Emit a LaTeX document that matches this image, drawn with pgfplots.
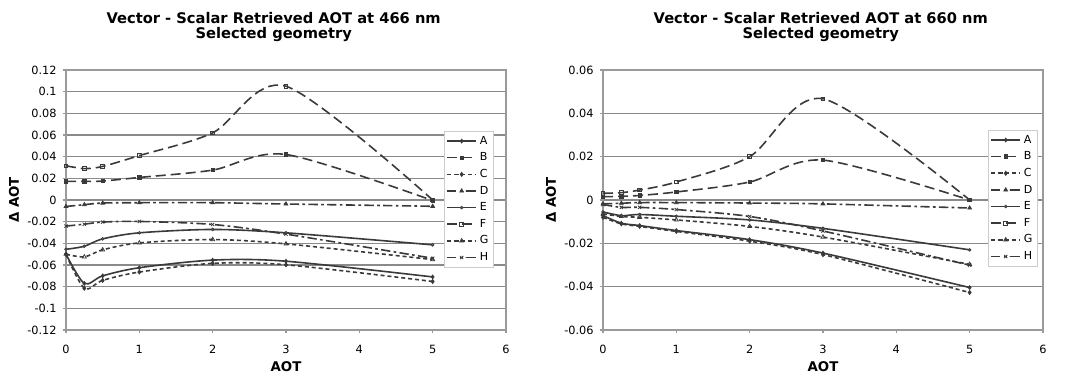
\documentclass[border=0pt]{standalone}
\usepackage{fontspec}
\setmainfont{DejaVu Sans}
\usepackage{pgfplots}
\pgfplotsset{compat=1.18}
\definecolor{ln}{HTML}{3A3A3A}
\definecolor{grd}{HTML}{8A8A8A}
\definecolor{frm}{HTML}{9A9A9A}
\pgfplotsset{
  chartstyle/.style={
    scale only axis, width=330pt, height=195pt,
    xmin=0, xmax=6, xtick={0,1,2,3,4,5,6},
    xticklabels={0,1,2,3,4,5,6},
    scaled y ticks=false, scaled x ticks=false,
    axis line style={frm, line width=0.8pt},
    ymajorgrids, grid style={grd, line width=0.8pt},
    tick align=outside, xtick pos=lower, ytick pos=left,
    major tick length=2.5pt, tick style={frm, line width=0.8pt},
    ticklabel style={font=\fontsize{8.5}{9}\selectfont},
    xticklabel style={yshift=-5.5pt},
    yticklabel style={xshift=-1pt},
    xlabel={\bfseries AOT}, ylabel={\bfseries Δ AOT},
    label style={font=\fontsize{8.4}{9}\selectfont},
    every axis x label/.style={at={(axis description cs:0.5,-0.142)},anchor=center},
    every axis y label/.style={at={(axis description cs:-0.118,0.5)},anchor=center,rotate=90},
    title style={font=\fontsize{11}{11.25}\selectfont\bfseries, align=center, anchor=center},
    legend cell align=left,
    legend style={font=\fontsize{8.3}{9}\selectfont, draw=gray!40, fill=white,
      inner sep=1.5pt, row sep=0.9pt},
    legend image code/.code={\draw[mark repeat=2,mark phase=2] plot coordinates {(0pt,0pt) (11pt,0pt) (22pt,0pt)};},
  },
  pl/.style={ln, line width=1.2pt, smooth, tension=0.5},
  sA/.style={pl, solid, mark=diamond*, mark size=1.4pt, mark options={solid, fill=ln, line width=0.6pt}},
  sB/.style={pl, dash pattern=on 7.5pt off 3.75pt, mark=square*, mark size=1.3pt, mark options={solid, fill=ln, line width=0.6pt}},
  sC/.style={pl, dash pattern=on 3pt off 2.2pt, mark=diamond*, mark size=1.5pt, mark options={solid, fill=ln, line width=0.6pt}},
  sD/.style={pl, dash pattern=on 7pt off 2.5pt on 2pt off 2.5pt, mark=triangle*, mark size=1.6pt, mark options={solid, fill=ln, line width=0.6pt}},
  sE/.style={pl, solid, mark=*, mark size=1pt, mark options={solid, fill=gray, line width=0.6pt}},
  sF/.style={pl, dash pattern=on 7.5pt off 3.75pt, mark=square, mark size=1.4pt, mark options={solid, fill=white, line width=0.6pt}},
  sG/.style={pl, dash pattern=on 3pt off 2.2pt, mark=triangle, mark size=1.7pt, mark options={solid, fill=white, line width=0.6pt}},
  sH/.style={pl, dash pattern=on 7pt off 2.5pt on 2pt off 2.5pt, mark=x, mark size=1.7pt, mark options={solid, line width=0.6pt}},
}
\begin{document}
\begin{tikzpicture}
\path[use as bounding box] (0,0) rectangle (801pt,284.25pt);
% ---------------- left chart (466 nm)
\begin{axis}[chartstyle,
  at={(49.5pt,36.75pt)}, anchor=south west,
  ymin=-0.12, ymax=0.12,
  ytick={-0.12,-0.1,-0.08,-0.06,-0.04,-0.02,0,0.02,0.04,0.06,0.08,0.1,0.12},
  yticklabels={-0.12,-0.1,-0.08,-0.06,-0.04,-0.02,0,0.02,0.04,0.06,0.08,0.1,0.12},
  title={Vector - Scalar Retrieved AOT at 466 nm\\Selected geometry},
  title style={at={(axis description cs:0.472,1.133)}},
  legend style={at={(axis description cs:0.859,0.765)}, anchor=north west},
]
\addplot[sA] coordinates {(0,-0.050) (0.25,-0.077) (0.5,-0.070) (1,-0.0625) (2,-0.0555) (3,-0.0565) (5,-0.071)};
\addplot[sB] coordinates {(0,0.0172) (0.25,0.0172) (0.5,0.0175) (1,0.0208) (2,0.0276) (3,0.042) (5,-0.0005)};
\addplot[sC] coordinates {(0,-0.050) (0.25,-0.0815) (0.5,-0.0742) (1,-0.0665) (2,-0.0585) (3,-0.0598) (5,-0.0752)};
\addplot[sD] coordinates {(0,-0.006) (0.25,-0.0043) (0.5,-0.0028) (1,-0.0025) (2,-0.0025) (3,-0.0037) (5,-0.0058)};
\addplot[sE] coordinates {(0,-0.0455) (0.25,-0.0427) (0.5,-0.0359) (1,-0.0303) (2,-0.0272) (3,-0.0303) (5,-0.0414)};
\addplot[sF] coordinates {(0,0.0316) (0.25,0.029) (0.5,0.031) (1,0.041) (2,0.062) (3,0.105) (5,0.0)};
\addplot[sG] coordinates {(0,-0.050) (0.25,-0.0525) (0.5,-0.046) (1,-0.0396) (2,-0.0365) (3,-0.0405) (5,-0.055)};
\addplot[sH] coordinates {(0,-0.0241) (0.25,-0.0223) (0.5,-0.0204) (1,-0.0198) (2,-0.0226) (3,-0.0315) (5,-0.0538)};
\legend{A,B,C,D,E,F,G,H}
\end{axis}
% ---------------- right chart (660 nm)
\begin{axis}[chartstyle,
  at={(452.25pt,36.75pt)}, anchor=south west,
  ymin=-0.06, ymax=0.06,
  ytick={-0.06,-0.04,-0.02,0,0.02,0.04,0.06},
  yticklabels={-0.06,-0.04,-0.02,0,0.02,0.04,0.06},
  title={Vector - Scalar Retrieved AOT at 660 nm\\Selected geometry},
  title style={at={(axis description cs:0.495,1.133)}},
  legend style={at={(axis description cs:0.875,0.769)}, anchor=north west},
]
\addplot[sA] coordinates {(0,-0.0072) (0.25,-0.0107) (0.5,-0.0118) (1,-0.0141) (2,-0.0183) (3,-0.0245) (5,-0.0404)};
\addplot[sB] coordinates {(0,0.0015) (0.25,0.0017) (0.5,0.0021) (1,0.0037) (2,0.0083) (3,0.0184) (5,0.0)};
\addplot[sC] coordinates {(0,-0.0080) (0.25,-0.0110) (0.5,-0.0122) (1,-0.0145) (2,-0.0190) (3,-0.0252) (5,-0.0427)};
\addplot[sD] coordinates {(0,-0.0018) (0.25,-0.0015) (0.5,-0.0012) (1,-0.0012) (2,-0.0014) (3,-0.0018) (5,-0.0037)};
\addplot[sE] coordinates {(0,-0.0055) (0.25,-0.0072) (0.5,-0.0067) (1,-0.0075) (2,-0.0092) (3,-0.0131) (5,-0.0230)};
\addplot[sF] coordinates {(0,0.0031) (0.25,0.0034) (0.5,0.0046) (1,0.0083) (2,0.0200) (3,0.0467) (5,0.0)};
\addplot[sG] coordinates {(0,-0.0064) (0.25,-0.0076) (0.5,-0.0080) (1,-0.0092) (2,-0.0122) (3,-0.0171) (5,-0.0297)};
\addplot[sH] coordinates {(0,-0.0021) (0.25,-0.0034) (0.5,-0.0034) (1,-0.0044) (2,-0.0076) (3,-0.0143) (5,-0.0301)};
\legend{A,B,C,D,E,F,G,H}
\end{axis}
\end{tikzpicture}
\end{document}
